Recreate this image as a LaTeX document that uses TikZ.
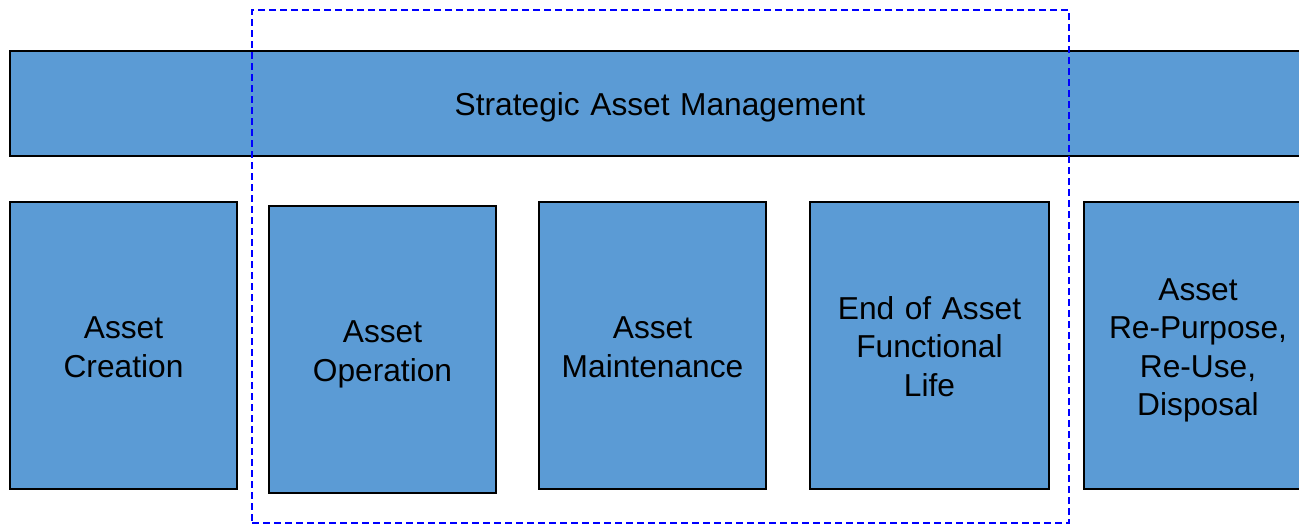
\documentclass[tikz,border=0pt]{standalone}
\usepackage{fontspec}
\setmainfont{Liberation Sans}
\definecolor{stageblue}{RGB}{91,155,213}
\begin{document}
\begin{tikzpicture}[x=1pt, y=-1pt,
		stage/.style={draw=black, line width=1.6pt, fill=stageblue, inner sep=0pt,
			minimum width=#1, minimum height=287pt, text width=#1-4pt, align=center,
			font=\fontsize{31.7}{38.5}\selectfont,
			execute at begin node={\rule{0pt}{31.5pt}},
			execute at end node={\rule[-7pt]{0pt}{0pt}}},
		stage/.default=227pt,
		focus/.style={draw=blue, line width=1.5pt, dash pattern=on 7pt off 4pt, inner sep=0pt},
	]
		\useasboundingbox (0,0) rectangle (1299,525);
		\clip (0,0) rectangle (1299,525);

		% strategic layer across the whole life cycle
		\node[stage=1300pt, minimum height=105pt] (sam) at (660,103.5) {Strategic Asset Management};

		% life cycle stages
		\node[stage] (creation) at (123.5,345.5) {Asset\\Creation};
		\node[stage] (operation) at (382.5,349.5) {Asset\\Operation};
		\node[stage] (maint) at (652.5,345.5) {Asset\\Maintenance};
		\node[stage=239pt] (endlife) at (929.5,345.5) {End of Asset\\Functional\\Life};
		\node[stage=228pt] (reuse) at (1198,345.5) {Asset\\Re-Purpose,\\Re-Use,\\Disposal};

		% operational phase
		\node[focus, minimum width=817pt, minimum height=513pt] (ops) at (660.5,266.5) {};
	\end{tikzpicture}
\end{document}
